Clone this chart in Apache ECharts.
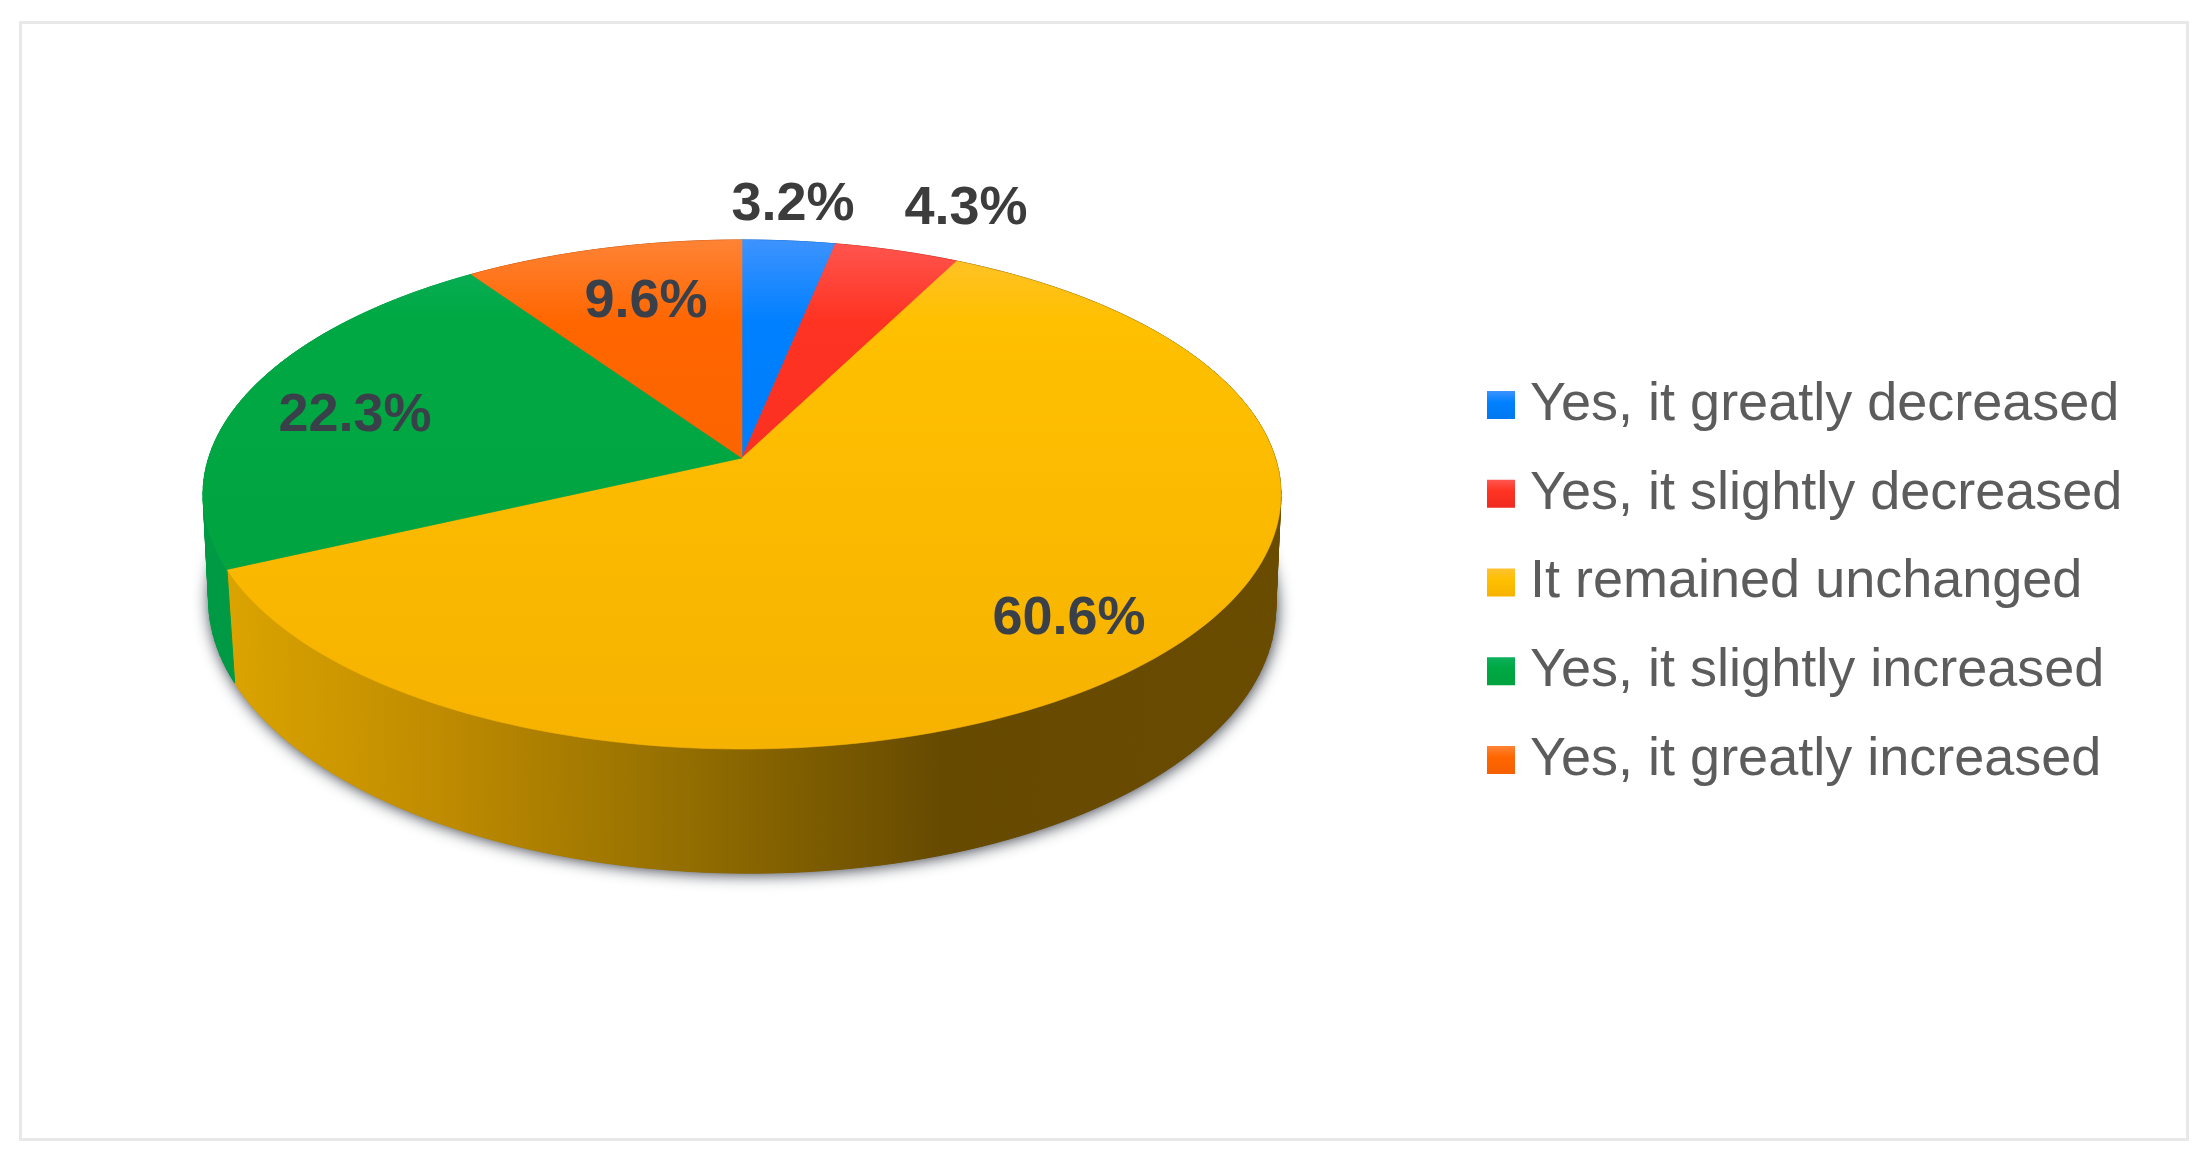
<!DOCTYPE html>
<html>
<head>
<meta charset="utf-8">
<script src="https://cdn.jsdelivr.net/npm/echarts@6/dist/echarts.min.js"></script>
<style>html,body{margin:0;padding:0;background:#fff}#c{width:2211px;height:1165px}</style>
</head>
<body>
<div id="c"></div>
<script>
const categories = ['Yes, it greatly decreased','Yes, it slightly decreased','It remained unchanged','Yes, it slightly increased','Yes, it greatly increased'];
const values = [3.2, 4.3, 60.6, 22.3, 9.6];
const labels = ['3.2%','4.3%','60.6%','22.3%','9.6%'];

// layout (axis units equal canvas pixels)
const labelAnchors = [[793,205],[966,209],[1069,619],[355,416],[646,302]];
const topPlane = {cx:742, cy:458, a:533.4, b:249.3, k:0.1434, skew:0};
const basePlane = {cx:741, cy:565, a:528, b:264, k:0.1434, skew:0.03};
const faceStops = [
  ['#3d93ff','#0080ff','#0078f0'],
  ['#ff5650','#ff3322','#f02a20'],
  ['#ffc230','#ffc000','#f6b200'],
  ['#0cb05c','#00a843','#00a23e'],
  ['#ff8335','#ff6600','#f56000']
];
const wallColors = ['#0058b0','#b02010',null,'#009a45','#b04500'];

const W = 2211, H = 1165;
const total = values.reduce((a,b)=>a+b,0);
const starts = values.map((v,i)=>values.slice(0,i).reduce((a,b)=>a+b,0));

function project(p, frac){
  const t = frac/total*2*Math.PI, u = Math.sin(t), v = -Math.cos(t), d = 1 - p.k*v;
  const dy = p.b*v/d;
  return [p.cx + p.a*u/d + p.skew*dy, p.cy + dy];
}
function arc(p, f0, f1){
  const n = Math.max(2, Math.ceil((f1-f0)/0.4)), pts = [];
  for(let i=0;i<=n;i++) pts.push(project(p, f0+(f1-f0)*i/n));
  return pts;
}
function grad(x,y,x2,y2,stops){
  return new echarts.graphic.LinearGradient(x,y,x2,y2,stops,true);
}
function faceFill(api,i){
  const a = api.coord([0,240]), b = api.coord([0,749]), s = faceStops[i];
  return grad(0,a[1],0,b[1],[{offset:0,color:s[0]},{offset:0.16,color:s[1]},{offset:1,color:s[2]}]);
}
function wallFill(api,i){
  if(wallColors[i]) return wallColors[i];
  const a = api.coord([226,0]), b = api.coord([1280,0]);
  return grad(a[0],0,b[0],0,[
    {offset:0,color:'#dba400'},{offset:0.2,color:'#c08c00'},{offset:0.42,color:'#967000'},
    {offset:0.68,color:'#664a00'},{offset:1,color:'#6a4c00'}]);
}
function renderSlice(params, api){
  const i = params.seriesIndex, f0 = api.value(0), f1 = api.value(1);
  const topArc = arc(topPlane,f0,f1), baseArc = arc(basePlane,f0,f1);
  const toPx = pts => pts.map(q=>api.coord(q));
  const apex = [topPlane.cx, topPlane.cy];
  const anchor = api.coord(labelAnchors[i]);
  const wall = wallFill(api,i);
  const quads = [];
  for(let j=0;j<topArc.length-1;j++){
    quads.push({type:'polygon', z2:1,
      shape:{points:toPx([topArc[j],topArc[j+1],baseArc[j+1],baseArc[j]])},
      style:{fill:wall, stroke:wall, lineWidth:1}});
  }
  return {type:'group', children:quads.concat([
    {type:'polygon', z2:2, shape:{points:toPx([apex].concat(topArc))},
     style:{fill:faceFill(api,i), stroke:faceFill(api,i), lineWidth:0.6}},
    {type:'text', z2:3, x:anchor[0], y:anchor[1],
     style:{text:labels[i], fill:i<2?'#3c3c3c':'#3a404a', font:'bold 54px "Liberation Sans"', align:'center', verticalAlign:'middle'}}
  ])};
}
function renderShadow(params, api){
  const pts = arc(basePlane,0,total).map(q=>api.coord(q));
  return {type:'polygon', z2:0, shape:{points:pts},
    style:{fill:'#666c74', shadowColor:'rgba(45,50,60,1)', shadowBlur:16, shadowOffsetX:1, shadowOffsetY:1}};
}
const sliceSeries = categories.map((name,i)=>({
  type:'custom', name, coordinateSystem:'cartesian2d', clip:false, silent:true,
  renderItem:renderSlice, encode:{x:0,y:1},
  data:[[starts[i], starts[i]+values[i]]],
  itemStyle:{color:faceStops[i][1]}
}));
const chart = echarts.init(document.getElementById('c'), null, {renderer:'canvas'});
chart.setOption({
  animation:false,
  backgroundColor:'#ffffff',
  grid:{left:0,right:0,top:0,bottom:0},
  xAxis:{type:'value',min:0,max:W,show:false},
  yAxis:{type:'value',min:0,max:H,inverse:true,show:false},
  graphic:[{type:'rect',z:-1,shape:{x:20.5,y:22.5,width:2167,height:1117},
    style:{fill:'#fff',stroke:'#e8e8e8',lineWidth:3}}],
  legend:{
    orient:'vertical', left:1482, top:370, icon:'rect', itemWidth:28, itemHeight:28,
    itemGap:28.75, selectedMode:false,
    textStyle:{fontFamily:'"Liberation Sans"',fontSize:54,color:'#5c5c5c',lineHeight:60,padding:[0,0,0,10]},
    data:categories.map((name,i)=>({name,itemStyle:{color:new echarts.graphic.LinearGradient(0,0,0,1,[
      {offset:0,color:faceStops[i][0]},{offset:0.4,color:faceStops[i][1]},{offset:1,color:faceStops[i][2]}])}}))
  },
  series:[...sliceSeries,{type:'custom',name:'shadow',clip:false,silent:true,renderItem:renderShadow,encode:{x:0,y:1},data:[[0,0]]}]
});
</script>
</body>
</html>
